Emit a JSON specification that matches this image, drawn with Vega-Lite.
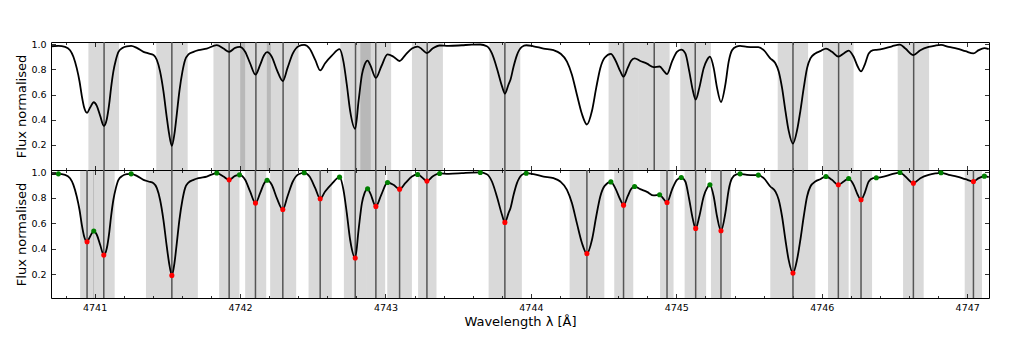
{
  "$schema": "https://vega.github.io/schema/vega-lite/v6.json",
  "autosize": {"type": "pad"},
  "padding": {"left": 15, "top": 38, "right": 20, "bottom": 10},
  "spacing": 0,
  "bounds": "flush",
  "config": {
    "view": {"stroke": "black", "strokeWidth": 1},
    "font": "DejaVu Sans",
    "axis": {"grid": false, "domain": false, "labelFont": "DejaVu Sans", "titleFont": "DejaVu Sans", "labelColor": "black", "titleColor": "black", "tickColor": "black", "labelFontSize": 9.5, "titleFontSize": 13, "titleFontWeight": "normal", "tickWidth": 0.8}
  },
  "datasets": {
    "spec": [
      {"wl":4740.698,"f":0.984},{"wl":4740.751,"f":0.987},{"wl":4740.797,"f":0.979},{"wl":4740.831,"f":0.953},{"wl":4740.854,"f":0.901},{"wl":4740.877,"f":0.810},{"wl":4740.896,"f":0.706},{"wl":4740.912,"f":0.588},{"wl":4740.928,"f":0.497},{"wl":4740.948,"f":0.455},{"wl":4740.969,"f":0.497},{"wl":4740.994,"f":0.539},{"wl":4741.015,"f":0.510},{"wl":4741.038,"f":0.432},{"wl":4741.063,"f":0.351},{"wl":4741.084,"f":0.406},{"wl":4741.100,"f":0.523},{"wl":4741.113,"f":0.653},{"wl":4741.129,"f":0.784},{"wl":4741.146,"f":0.875},{"wl":4741.164,"f":0.940},{"wl":4741.191,"f":0.971},{"wl":4741.221,"f":0.984},{"wl":4741.251,"f":0.987},{"wl":4741.290,"f":0.971},{"wl":4741.336,"f":0.940},{"wl":4741.370,"f":0.927},{"wl":4741.405,"f":0.914},{"wl":4741.428,"f":0.875},{"wl":4741.450,"f":0.784},{"wl":4741.473,"f":0.627},{"wl":4741.496,"f":0.419},{"wl":4741.512,"f":0.289},{"wl":4741.531,"f":0.192},{"wl":4741.549,"f":0.289},{"wl":4741.565,"f":0.445},{"wl":4741.583,"f":0.627},{"wl":4741.604,"f":0.784},{"wl":4741.622,"f":0.875},{"wl":4741.645,"f":0.919},{"wl":4741.680,"f":0.940},{"wl":4741.714,"f":0.953},
      {"wl":4741.771,"f":0.966},{"wl":4741.840,"f":0.993},{"wl":4741.886,"f":0.966},{"wl":4741.925,"f":0.940},{"wl":4741.966,"f":0.971},{"wl":4741.996,"f":0.979},{"wl":4742.035,"f":0.940},{"wl":4742.069,"f":0.849},{"wl":4742.106,"f":0.758},{"wl":4742.138,"f":0.836},{"wl":4742.166,"f":0.914},{"wl":4742.186,"f":0.937},{"wl":4742.218,"f":0.901},{"wl":4742.253,"f":0.797},{"wl":4742.294,"f":0.708},{"wl":4742.326,"f":0.810},{"wl":4742.363,"f":0.927},{"wl":4742.402,"f":0.984},{"wl":4742.441,"f":0.995},{"wl":4742.478,"f":0.966},{"wl":4742.517,"f":0.875},{"wl":4742.551,"f":0.792},{"wl":4742.585,"f":0.849},{"wl":4742.631,"f":0.909},{"wl":4742.684,"f":0.961},{"wl":4742.711,"f":0.862},{"wl":4742.734,"f":0.680},{"wl":4742.757,"f":0.471},{"wl":4742.792,"f":0.328},
      {"wl":4742.815,"f":0.549},{"wl":4742.838,"f":0.758},{"wl":4742.856,"f":0.836},{"wl":4742.877,"f":0.870},{"wl":4742.895,"f":0.836},{"wl":4742.934,"f":0.732},{"wl":4742.971,"f":0.823},{"wl":4743.014,"f":0.919},{"wl":4743.055,"f":0.901},{"wl":4743.097,"f":0.867},{"wl":4743.136,"f":0.914},{"wl":4743.182,"f":0.966},{"wl":4743.221,"f":0.982},{"wl":4743.250,"f":0.961},{"wl":4743.285,"f":0.930},{"wl":4743.324,"f":0.966},{"wl":4743.372,"f":0.990},{"wl":4743.434,"f":0.987},{"wl":4743.525,"f":0.992},{"wl":4743.594,"f":0.997},{"wl":4743.652,"f":0.998},{"wl":4743.697,"f":0.984},{"wl":4743.732,"f":0.927},{"wl":4743.766,"f":0.810},{"wl":4743.801,"f":0.667},{"wl":4743.821,"f":0.607},{"wl":4743.846,"f":0.680},
      {"wl":4743.860,"f":0.720},{"wl":4743.881,"f":0.823},{"wl":4743.904,"f":0.914},{"wl":4743.938,"f":0.979},{"wl":4743.968,"f":0.992},{"wl":4744.018,"f":0.984},{"wl":4744.087,"f":0.966},{"wl":4744.156,"f":0.953},{"wl":4744.202,"f":0.927},{"wl":4744.248,"f":0.862},{"wl":4744.282,"f":0.758},{"wl":4744.316,"f":0.601},{"wl":4744.351,"f":0.445},{"wl":4744.385,"f":0.362},{"wl":4744.420,"f":0.471},{"wl":4744.449,"f":0.653},{"wl":4744.477,"f":0.810},{"wl":4744.507,"f":0.893},{"wl":4744.550,"f":0.924},{"wl":4744.580,"f":0.875},{"wl":4744.615,"f":0.784},{"wl":4744.637,"f":0.742},{"wl":4744.665,"f":0.810},{"wl":4744.688,"f":0.867},{"wl":4744.713,"f":0.888},{"wl":4744.752,"f":0.867},{"wl":4744.798,"f":0.846},{"wl":4744.844,"f":0.818},{"wl":4744.885,"f":0.823},{"wl":4744.913,"f":0.789},{"wl":4744.936,"f":0.763},
      {"wl":4744.970,"f":0.862},{"wl":4745.004,"f":0.940},{"wl":4745.034,"f":0.958},{"wl":4745.062,"f":0.927},{"wl":4745.089,"f":0.784},{"wl":4745.112,"f":0.640},{"wl":4745.133,"f":0.560},{"wl":4745.158,"f":0.653},{"wl":4745.188,"f":0.810},{"wl":4745.211,"f":0.875},{"wl":4745.231,"f":0.901},{"wl":4745.257,"f":0.810},{"wl":4745.280,"f":0.653},{"wl":4745.307,"f":0.541},{"wl":4745.337,"f":0.679},{"wl":4745.360,"f":0.862},{"wl":4745.383,"f":0.953},{"wl":4745.413,"f":0.982},{"wl":4745.438,"f":0.987},{"wl":4745.486,"f":0.979},{"wl":4745.532,"f":0.977},{"wl":4745.564,"f":0.977},{"wl":4745.601,"f":0.953},{"wl":4745.646,"f":0.888},{"wl":4745.681,"f":0.849},{"wl":4745.704,"f":0.784},{"wl":4745.727,"f":0.653},{"wl":4745.750,"f":0.471},{"wl":4745.772,"f":0.315},{"wl":4745.802,"f":0.210},{"wl":4745.830,"f":0.315},{"wl":4745.853,"f":0.471},{"wl":4745.876,"f":0.653},{"wl":4745.899,"f":0.810},{"wl":4745.922,"f":0.888},{"wl":4745.956,"f":0.927},{"wl":4745.990,"f":0.945},
      {"wl":4746.029,"f":0.966},{"wl":4746.070,"f":0.940},{"wl":4746.114,"f":0.901},{"wl":4746.151,"f":0.927},{"wl":4746.185,"f":0.950},{"wl":4746.219,"f":0.901},{"wl":4746.247,"f":0.823},{"wl":4746.270,"f":0.784},{"wl":4746.295,"f":0.836},{"wl":4746.323,"f":0.927},{"wl":4746.353,"f":0.953},{"wl":4746.375,"f":0.956},{"wl":4746.426,"f":0.966},{"wl":4746.483,"f":0.984},{"wl":4746.538,"f":0.997},{"wl":4746.575,"f":0.966},{"wl":4746.630,"f":0.914},{"wl":4746.678,"f":0.953},{"wl":4746.735,"f":0.979},{"wl":4746.781,"f":0.990},{"wl":4746.820,"f":0.995},{"wl":4746.873,"f":0.979},{"wl":4746.930,"f":0.966},{"wl":4746.988,"f":0.945},{"wl":4747.043,"f":0.927},{"wl":4747.079,"f":0.953},{"wl":4747.118,"f":0.969},{"wl":4747.148,"f":0.961}
    ],
    "topLines": [
      {"c":4741.065,"lo":4740.957,"hi":4741.168},{"c":4741.531,"lo":4741.424,"hi":4741.640},{"c":4741.925,"lo":4741.817,"hi":4742.035},{"c":4742.109,"lo":4742.001,"hi":4742.212},{"c":4742.296,"lo":4742.184,"hi":4742.402},{"c":4742.794,"lo":4742.689,"hi":4742.899},{"c":4742.933,"lo":4742.827,"hi":4743.039},{"c":4743.287,"lo":4743.182,"hi":4743.395},{"c":4743.821,"lo":4743.715,"hi":4743.927},{"c":4744.637,"lo":4744.534,"hi":4744.741},{"c":4744.848,"lo":4744.741,"hi":4744.954},{"c":4745.130,"lo":4745.027,"hi":4745.238},{"c":4745.802,"lo":4745.697,"hi":4745.906},{"c":4746.116,"lo":4746.009,"hi":4746.219},{"c":4746.632,"lo":4746.522,"hi":4746.738}
    ],
    "botLines": [
      {"c":4740.948,"f":0.455,"lo":4740.900,"hi":4740.996},{"c":4741.063,"f":0.351,"lo":4740.990,"hi":4741.138},{"c":4741.531,"f":0.192,"lo":4741.353,"hi":4741.710},{"c":4741.925,"f":0.940,"lo":4741.856,"hi":4741.996},{"c":4742.106,"f":0.758,"lo":4742.035,"hi":4742.180},{"c":4742.294,"f":0.708,"lo":4742.207,"hi":4742.386},{"c":4742.551,"f":0.792,"lo":4742.471,"hi":4742.631},{"c":4742.792,"f":0.328,"lo":4742.714,"hi":4742.872},{"c":4742.934,"f":0.732,"lo":4742.872,"hi":4742.998},{"c":4743.097,"f":0.867,"lo":4743.012,"hi":4743.182},{"c":4743.285,"f":0.930,"lo":4743.224,"hi":4743.351},{"c":4743.821,"f":0.607,"lo":4743.709,"hi":4743.938},{"c":4744.385,"f":0.362,"lo":4744.266,"hi":4744.505},{"c":4744.637,"f":0.742,"lo":4744.573,"hi":4744.704},{"c":4744.936,"f":0.763,"lo":4744.888,"hi":4744.981},{"c":4745.133,"f":0.560,"lo":4745.057,"hi":4745.205},{"c":4745.307,"f":0.541,"lo":4745.238,"hi":4745.376},{"c":4745.802,"f":0.210,"lo":4745.646,"hi":4745.956},{"c":4746.114,"f":0.901,"lo":4746.043,"hi":4746.185},{"c":4746.270,"f":0.784,"lo":4746.197,"hi":4746.346},{"c":4746.630,"f":0.914,"lo":4746.559,"hi":4746.701},{"c":4747.043,"f":0.927,"lo":4746.983,"hi":4747.102}
    ],
    "green": [
      {"wl":4740.751,"f":0.987},{"wl":4740.994,"f":0.539},{"wl":4741.251,"f":0.987},{"wl":4741.840,"f":0.993},{"wl":4741.996,"f":0.979},{"wl":4742.186,"f":0.937},{"wl":4742.441,"f":0.995},{"wl":4742.684,"f":0.961},{"wl":4742.877,"f":0.870},{"wl":4743.014,"f":0.919},{"wl":4743.221,"f":0.982},{"wl":4743.372,"f":0.990},{"wl":4743.652,"f":0.998},{"wl":4743.968,"f":0.992},{"wl":4744.550,"f":0.924},{"wl":4744.713,"f":0.888},{"wl":4744.885,"f":0.823},{"wl":4745.034,"f":0.958},{"wl":4745.231,"f":0.901},{"wl":4745.438,"f":0.987},{"wl":4745.564,"f":0.977},{"wl":4746.029,"f":0.966},{"wl":4746.185,"f":0.950},{"wl":4746.375,"f":0.956},{"wl":4746.538,"f":0.997},{"wl":4746.820,"f":0.995},{"wl":4747.118,"f":0.969}
    ]
  },
  "vconcat": [
    {
      "width": 938,
      "height": 128,
      "resolve": {"axis": {"x": "independent", "y": "independent"}},
      "layer": [
        {
          "data": {"name": "topLines"},
          "mark": {"type": "rect", "fill": "black", "fillOpacity": 0.15},
          "encoding": {
            "x": {"field": "lo", "type": "quantitative", "scale": {"domain": [4740.7, 4747.15], "nice": false, "zero": false},
              "axis": {"orient": "bottom", "values": [4740.8,4741,4741.2,4741.4,4741.6,4741.8,4742,4742.2,4742.4,4742.6,4742.8,4743,4743.2,4743.4,4743.6,4743.8,4744,4744.2,4744.4,4744.6,4744.8,4745,4745.2,4745.4,4745.6,4745.8,4746,4746.2,4746.4,4746.6,4746.8,4747], "labels": false, "title": null, "tickSize": {"condition": {"test": "abs(datum.value - round(datum.value)) < 0.01", "value": -4.5}, "value": -2.5}}},
            "x2": {"field": "hi"},
            "y": {"datum": 0, "type": "quantitative", "scale": {"domain": [0, 1.018], "nice": false, "zero": false},
              "axis": {"orient": "left", "values": [0.2, 0.4, 0.6, 0.8, 1.0], "format": ".1f", "ticks": false, "labelPadding": 5, "title": "Flux normalised", "titlePadding": 2}},
            "y2": {"datum": 1.018}
          }
        },
        {
          "data": {"name": "topLines"},
          "mark": {"type": "rule", "color": "#555555", "strokeWidth": 1.5},
          "encoding": {
            "x": {"field": "c", "type": "quantitative",
              "axis": {"orient": "top", "values": [4740.8,4741,4741.2,4741.4,4741.6,4741.8,4742,4742.2,4742.4,4742.6,4742.8,4743,4743.2,4743.4,4743.6,4743.8,4744,4744.2,4744.4,4744.6,4744.8,4745,4745.2,4745.4,4745.6,4745.8,4746,4746.2,4746.4,4746.6,4746.8,4747], "labels": false, "title": null, "tickSize": {"condition": {"test": "abs(datum.value - round(datum.value)) < 0.01", "value": -4.5}, "value": -2.5}}},
            "y": {"datum": 0, "type": "quantitative", "axis": {"orient": "left", "values": [0.2, 0.4, 0.6, 0.8, 1.0], "labels": false, "title": null, "tickSize": -4.5}},
            "y2": {"datum": 1.018}
          }
        },
        {
          "data": {"name": "spec"},
          "mark": {"type": "line", "color": "black", "strokeWidth": 1.8, "interpolate": "monotone", "clip": true},
          "encoding": {
            "x": {"field": "wl", "type": "quantitative", "axis": null},
            "y": {"field": "f", "type": "quantitative", "axis": {"orient": "right", "values": [0.2, 0.4, 0.6, 0.8, 1.0], "labels": false, "title": null, "tickSize": -4.5}}
          }
        }
      ]
    },
    {
      "width": 938,
      "height": 128,
      "resolve": {"axis": {"x": "independent", "y": "independent"}},
      "layer": [
        {
          "data": {"name": "botLines"},
          "mark": {"type": "rect", "fill": "black", "fillOpacity": 0.15},
          "encoding": {
            "x": {"field": "lo", "type": "quantitative", "scale": {"domain": [4740.7, 4747.15], "nice": false, "zero": false},
              "axis": {"orient": "bottom", "values": [4741, 4742, 4743, 4744, 4745, 4746, 4747], "format": "d", "ticks": false, "labelPadding": 4, "title": "Wavelength λ [Å]", "titlePadding": 4}},
            "x2": {"field": "hi"},
            "y": {"datum": 0.015, "type": "quantitative", "scale": {"domain": [0.015, 1.017], "nice": false, "zero": false},
              "axis": {"orient": "left", "values": [0.2, 0.4, 0.6, 0.8, 1.0], "format": ".1f", "ticks": false, "labelPadding": 5, "title": "Flux normalised", "titlePadding": 2}},
            "y2": {"datum": 1.017}
          }
        },
        {
          "data": {"name": "botLines"},
          "mark": {"type": "rule", "color": "#555555", "strokeWidth": 1.5},
          "encoding": {
            "x": {"field": "c", "type": "quantitative",
              "axis": {"orient": "bottom", "values": [4740.8,4741,4741.2,4741.4,4741.6,4741.8,4742,4742.2,4742.4,4742.6,4742.8,4743,4743.2,4743.4,4743.6,4743.8,4744,4744.2,4744.4,4744.6,4744.8,4745,4745.2,4745.4,4745.6,4745.8,4746,4746.2,4746.4,4746.6,4746.8,4747], "labels": false, "title": null, "tickSize": {"condition": {"test": "abs(datum.value - round(datum.value)) < 0.01", "value": -4.5}, "value": -2.5}}},
            "y": {"datum": 0.015, "type": "quantitative", "axis": {"orient": "left", "values": [0.2, 0.4, 0.6, 0.8, 1.0], "labels": false, "title": null, "tickSize": -4.5}},
            "y2": {"datum": 1.017}
          }
        },
        {
          "data": {"name": "spec"},
          "mark": {"type": "line", "color": "black", "strokeWidth": 1.8, "interpolate": "monotone", "clip": true},
          "encoding": {
            "x": {"field": "wl", "type": "quantitative",
              "axis": {"orient": "top", "values": [4740.8,4741,4741.2,4741.4,4741.6,4741.8,4742,4742.2,4742.4,4742.6,4742.8,4743,4743.2,4743.4,4743.6,4743.8,4744,4744.2,4744.4,4744.6,4744.8,4745,4745.2,4745.4,4745.6,4745.8,4746,4746.2,4746.4,4746.6,4746.8,4747], "labels": false, "title": null, "tickSize": {"condition": {"test": "abs(datum.value - round(datum.value)) < 0.01", "value": -4.5}, "value": -2.5}}},
            "y": {"field": "f", "type": "quantitative", "axis": {"orient": "right", "values": [0.2, 0.4, 0.6, 0.8, 1.0], "labels": false, "title": null, "tickSize": -4.5}}
          }
        },
        {
          "data": {"name": "botLines"},
          "mark": {"type": "circle", "color": "#ff0000", "opacity": 1, "size": 26},
          "encoding": {
            "x": {"field": "c", "type": "quantitative", "axis": null},
            "y": {"field": "f", "type": "quantitative", "axis": null}
          }
        },
        {
          "data": {"name": "green"},
          "mark": {"type": "circle", "color": "#008000", "opacity": 1, "size": 26},
          "encoding": {
            "x": {"field": "wl", "type": "quantitative", "axis": null},
            "y": {"field": "f", "type": "quantitative", "axis": null}
          }
        }
      ]
    }
  ]
}
